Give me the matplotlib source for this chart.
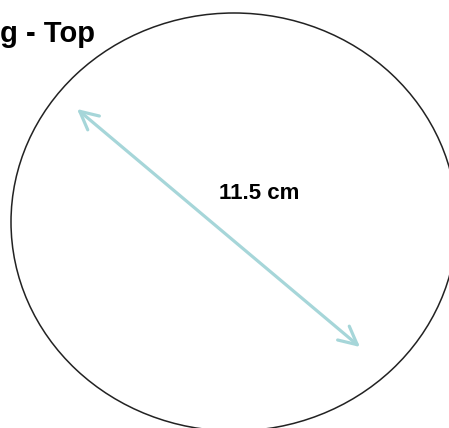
import matplotlib
matplotlib.use("Agg")
import matplotlib.pyplot as plt
from matplotlib.patches import Ellipse, FancyArrowPatch

# Diagram data (pixel coordinates of the reference drawing)
circle_center = (234, 222)
circle_size = (446, 418)
arrow_start = (77, 109)
arrow_end = (360, 347)
diameter_label = "11.5 cm"
title_text = "g - Top"

fig = plt.figure(figsize=(4.49, 4.28), dpi=100)
ax = fig.add_axes([0, 0, 1, 1])
ax.set_xlim(0, 449)
ax.set_ylim(428, 0)
ax.axis("off")

ax.add_patch(Ellipse(circle_center, circle_size[0], circle_size[1],
                     fill=False, edgecolor="#222222", linewidth=1.1))

ax.add_patch(FancyArrowPatch(arrow_start, arrow_end,
                             arrowstyle="<->,head_length=13,head_width=6.5",
                             color="#a6d6d9", linewidth=2.3,
                             shrinkA=0, shrinkB=0, mutation_scale=1))

ax.text(259, 193, diameter_label, ha="center", va="center",
        fontsize=16, fontweight="bold", family="Liberation Sans", color="black")
ax.text(0.5, 42, title_text, ha="left", va="baseline",
        fontsize=21, fontweight="bold", family="Liberation Sans", color="black")

fig.savefig("out.png", dpi=100)
